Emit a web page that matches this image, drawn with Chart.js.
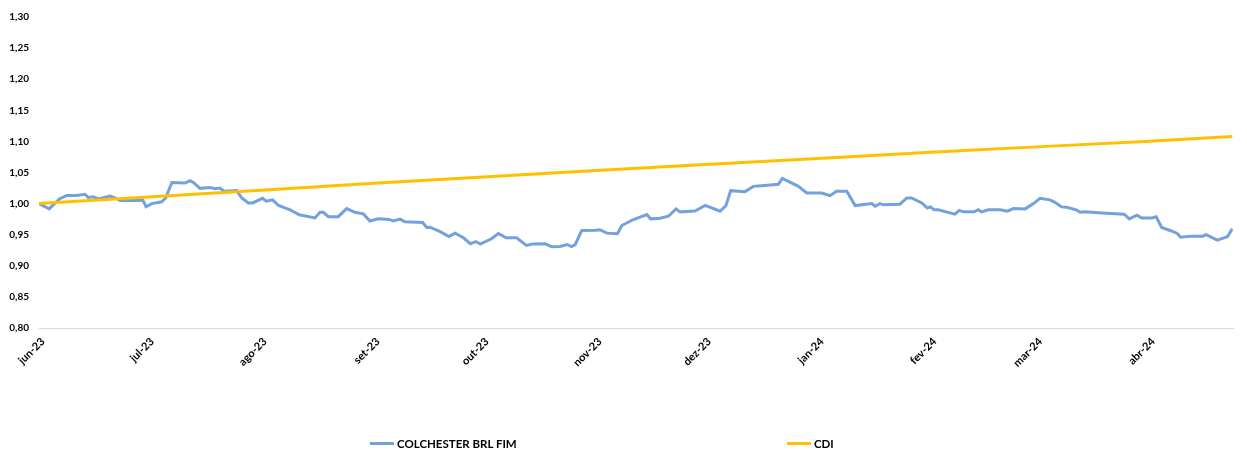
<!DOCTYPE html>
<html>
<head>
<meta charset="utf-8">
<script src="https://cdn.jsdelivr.net/npm/chart.js@4.4.1/dist/chart.umd.min.js"></script>
<style>
  body { margin: 0; background: #fff; }
  #wrap { position: relative; width: 1247px; height: 451px; }
  .leg { position: absolute; top: 437px; display: flex; align-items: center;
         font: bold 11.5px Lato, sans-serif; color: #000; }
  .leg i { display: inline-block; width: 24px; height: 3px; margin-right: 3px; }
</style>
</head>
<body>
<div id="wrap">
  <canvas id="chart" width="1247" height="451"></canvas>
</div>
<script>
// days counted from 01/06/2023
const monthDays = [0, 30, 61, 92, 122, 153, 183, 214, 245, 274, 305];
const monthLabels = ['jun-23', 'jul-23', 'ago-23', 'set-23', 'out-23', 'nov-23',
                     'dez-23', 'jan-24', 'fev-24', 'mar-24', 'abr-24'];
const yTicks = [0.80, 0.85, 0.90, 0.95, 1.00, 1.05, 1.10, 1.15, 1.20, 1.25, 1.30];

const seriesNames = ['COLCHESTER BRL FIM', 'CDI'];
const seriesColors = ['#73A1DD', '#FFC000'];

const colDays = [0, 2.8, 5.6, 7.6, 10.3, 12.6, 13.5, 14.9, 16.3, 19.5, 20.9, 22.3, 27.7, 28.5, 29.4,
  31, 33.7, 34.8, 36.5, 40.1, 41.5, 42.4, 44.2, 47, 48.4, 49.7, 50.8, 54.3, 55.7, 57.5, 58.7,
  61.4, 62.4, 64.2, 65.8, 69, 71.5, 75.8, 77.2, 78.1, 79.5, 82.2, 84.5, 86.8, 89.1, 90.9,
  93.2, 96.2, 97.3, 99.2, 100.5, 105.4, 106.5, 107.4, 110.2, 112.6, 114.3, 116.6, 118.5, 120,
  121.2, 124.3, 126.2, 128.3, 131.2, 133.9, 135.6, 139, 140.8, 143.1, 145.1, 146.3, 147.3,
  149.1, 153, 154.1, 156, 158.9, 160.1, 163.3, 167, 168, 170.6, 172.9, 175, 176.1, 180.2,
  183, 187.1, 188.7, 190, 193.9, 196.2, 198.5, 203.1, 204.2, 208.6, 210.9, 215, 217.3,
  219.1, 221.9, 224.2, 228.8, 229.7, 231, 232, 236.5, 238.4, 239.7, 242.5, 244, 244.9,
  245.9, 247, 251.6, 252.8, 253.9, 256.9, 258, 258.9, 260.8, 264, 266, 267.7, 270.9,
  273.2, 275, 277.7, 279.1, 280.9, 282.3, 284.9, 286, 287.4, 291.9, 298.1, 299.5, 301.6,
  302.9, 305.7, 306.9, 308.4, 310.7, 312.7, 313.6, 316.7, 319.7, 320.6, 323.7, 326.5, 327.8];
const colValues = [1.000, 0.9915, 1.0075, 1.013, 1.013, 1.015, 1.010, 1.011, 1.0075, 1.012, 1.009, 1.005, 1.005, 1.006, 0.995,
  1.000, 1.003, 1.009, 1.034, 1.033, 1.037, 1.034, 1.0245, 1.026, 1.024, 1.025, 1.020, 1.021, 1.009, 1.001, 1.001,
  1.0085, 1.004, 1.006, 0.997, 0.990, 0.982, 0.977, 0.986, 0.986, 0.979, 0.979, 0.992, 0.986, 0.9835, 0.972,
  0.9755, 0.9745, 0.972, 0.975, 0.9707, 0.9696, 0.9616, 0.962, 0.955, 0.947, 0.9525, 0.945, 0.9355, 0.939,
  0.935, 0.9435, 0.952, 0.945, 0.945, 0.9328, 0.935, 0.9355, 0.9307, 0.931, 0.934, 0.931, 0.934,
  0.9568, 0.957, 0.958, 0.9525, 0.9515, 0.9648, 0.9744, 0.9824, 0.9755, 0.9765, 0.9797, 0.9915, 0.9867, 0.988,
  0.997, 0.9877, 0.9968, 1.0208, 1.019, 1.0277, 1.0288, 1.031, 1.0405, 1.0277, 1.017, 1.017, 1.0128,
  1.0197, 1.0197, 0.9968, 1.000, 0.9957, 1.000, 0.998, 0.999, 1.009, 1.009, 1.001, 0.993, 0.9947,
  0.990, 0.990, 0.983, 0.989, 0.9867, 0.9867, 0.990, 0.9867, 0.990, 0.990, 0.9877, 0.992, 0.9915,
  1.000, 1.0085, 1.006, 1.002, 0.9947, 0.994, 0.990, 0.986, 0.9867, 0.985, 0.983, 0.9755, 0.9813,
  0.977, 0.977, 0.9787, 0.9616, 0.9568, 0.952, 0.946, 0.9477, 0.9477, 0.950, 0.9413, 0.947, 0.9595];

const cdiDays = [0, 30, 61, 92, 122, 153, 183, 214, 245, 274, 305, 327.8];
const cdiValues = [1.000, 1.0105, 1.0213, 1.0328, 1.0428, 1.0532, 1.0628, 1.0724, 1.0826, 1.0912, 1.1003, 1.1077];

const toPoints = (xs, ys) => xs.map((x, i) => ({ x: x, y: ys[i] }));
const fmt = v => v.toFixed(2).replace('.', ',');

Chart.defaults.font.family = 'Lato, sans-serif';
Chart.defaults.color = '#000';

new Chart(document.getElementById('chart'), {
  type: 'line',
  data: {
    datasets: [
      {
        label: seriesNames[0],
        data: toPoints(colDays, colValues),
        borderColor: seriesColors[0],
        borderWidth: 3,
        pointRadius: 0,
        tension: 0,
        order: 2,
      },
      {
        label: seriesNames[1],
        data: toPoints(cdiDays, cdiValues),
        borderColor: seriesColors[1],
        borderWidth: 3,
        pointRadius: 0,
        tension: 0,
        order: 1,
      },
    ],
  },
  options: {
    responsive: false,
    animation: false,
    layout: { padding: { top: 17, right: 14, bottom: 0, left: 0 } },
    plugins: { legend: { display: false }, tooltip: { enabled: false } },
    scales: {
      x: {
        type: 'linear',
        min: 0,
        max: 328,
        grid: { display: false, drawTicks: false },
        border: { display: true, color: '#d9d9d9', width: 1 },
        afterBuildTicks: s => { s.ticks = monthDays.map(v => ({ value: v })); },
        afterFit: s => { s.height = 123; },
        ticks: {
          autoSkip: false,
          minRotation: 45,
          maxRotation: 45,
          padding: 7,
          labelOffset: 4,
          font: { size: 11, weight: 'bold' },
          callback: v => monthLabels[monthDays.indexOf(v)],
        },
      },
      y: {
        min: 0.8,
        max: 1.3,
        grid: { display: false, drawTicks: false },
        border: { display: false },
        afterBuildTicks: s => { s.ticks = yTicks.map(v => ({ value: v })); },
        afterFit: s => { s.width = 39; },
        ticks: {
          padding: 10,
          font: { size: 10, weight: 'bold' },
          callback: v => fmt(v),
        },
      },
    },
  },
});

// legend like the original, wide apart under the plot
const legendLeft = [370, 787];
seriesNames.forEach((name, i) => {
  const el = document.createElement('div');
  el.className = 'leg';
  el.style.left = legendLeft[i] + 'px';
  el.innerHTML = '<i style="background:' + seriesColors[i] + '"></i>' + name;
  document.getElementById('wrap').appendChild(el);
});
</script>
</body>
</html>
